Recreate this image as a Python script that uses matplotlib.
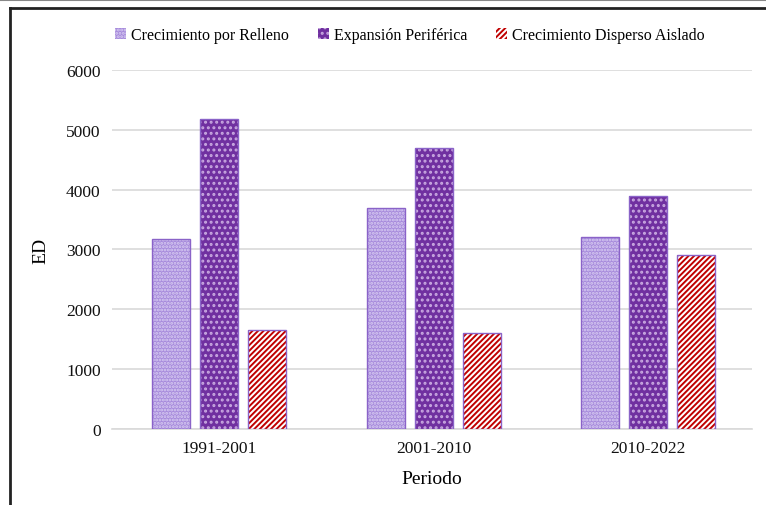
import matplotlib.pyplot as plt
import numpy as np
from matplotlib.lines import Line2D
from matplotlib.patches import Patch

plt.rcParams['font.family'] = ['Liberation Serif', 'DejaVu Serif']
plt.rcParams['hatch.linewidth'] = 1.4

periodos = ['1991-2001', '2001-2010', '2010-2022']
series = ['Crecimiento por Relleno', 'Expansión Periférica', 'Crecimiento Disperso Aislado']
relleno = [3170, 3700, 3200]
periferica = [5180, 4700, 3900]
disperso = [1660, 1600, 2900]

# (face, hatch colour, hatch)
estilos = [('#a78cdc', '#d9ccf2', '.....'),
           ('#7030a0', '#c8a8e0', '...'),
           ('#ffffff', '#c00000', '//////')]

fig = plt.figure(figsize=(7.66, 5.06), dpi=100)
ax = fig.add_axes([0.146, 0.15, 0.836, 0.71])

x = np.arange(len(periodos))
w = 0.177
paso = 0.224
for k, vals in enumerate([relleno, periferica, disperso]):
    fc, hc, h = estilos[k]
    pos = x + (k - 1) * paso
    ax.bar(pos, vals, w, color=fc, edgecolor=hc, hatch=h, linewidth=0, zorder=3)
    ax.bar(pos, vals, w, fill=False, edgecolor='#8a63c8', linewidth=1.0, zorder=4)

ax.set_xlim(-0.5, 2.485)
ax.set_ylim(0, 6000)
ax.set_yticks(range(0, 6001, 1000))
ax.set_xticks(x)
ax.set_xticklabels(periodos)
ax.tick_params(axis='both', length=0, labelsize=12.5, colors='#111111', pad=8)
ax.grid(axis='y', color='#d9d9d9', linewidth=1.2, zorder=0)
for s in ['top', 'right', 'left']:
    ax.spines[s].set_visible(False)
ax.spines['bottom'].set_color('#d9d9d9')
ax.spines['bottom'].set_linewidth(1.2)
ax.set_ylabel('ED', fontsize=14, labelpad=12)
ax.set_xlabel('Periodo', fontsize=14, labelpad=10)

handles = []
for k, nombre in enumerate(series):
    fc, hc, h = estilos[k]
    handles.append(Patch(facecolor=fc, edgecolor=hc, hatch=h, linewidth=0, label=nombre))
leg = fig.legend(handles=handles, loc='center', bbox_to_anchor=(0.535, 0.928), ncol=3,
                 frameon=False, fontsize=11.5, handlelength=0.7, handleheight=0.7,
                 handletextpad=0.3, columnspacing=1.8)

# marco de la figura
fig.add_artist(Line2D([0, 1], [0.999, 0.999], color='#888888', linewidth=1.5))
fig.add_artist(Line2D([0.0125, 1], [0.983, 0.983], color='#222222', linewidth=2))
fig.add_artist(Line2D([0.0125, 0.0125], [0, 0.983], color='#222222', linewidth=2))

fig.savefig('out.png', dpi=100)
